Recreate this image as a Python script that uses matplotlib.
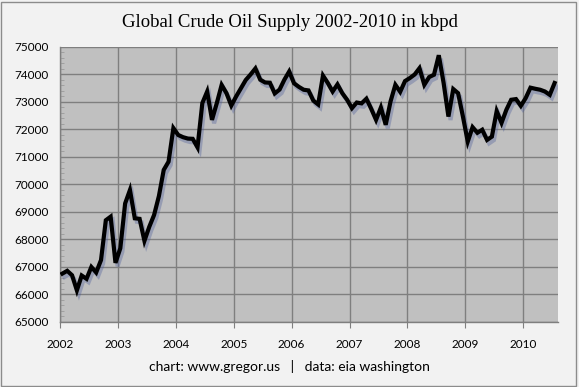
import matplotlib
matplotlib.use("Agg")
import matplotlib.pyplot as plt
import matplotlib.patheffects as pe
from matplotlib.ticker import MultipleLocator
import numpy as np

# monthly world crude supply, Jan 2002 .. Jul 2010 (kbpd)
supply_2002 = [66760, 66860, 66700, 66150, 66690, 66570, 67000, 66800, 67250, 68700, 68830, 67150]
supply_2003 = [67680, 69310, 69800, 68770, 68750, 67950, 68460, 68890, 69580, 70530, 70830, 72050]
supply_2004 = [71800, 71720, 71670, 71660, 71350, 72960, 73380, 72350, 72960, 73620, 73320, 72870]
supply_2005 = [73200, 73500, 73800, 74000, 74220, 73810, 73710, 73700, 73310, 73450, 73810, 74110]
supply_2006 = [73680, 73550, 73445, 73420, 73050, 72910, 73960, 73690, 73380, 73640, 73320, 73080]
supply_2007 = [72775, 72980, 72950, 73120, 72750, 72350, 72800, 72170, 73020, 73625, 73370, 73760]
supply_2008 = [73870, 74000, 74230, 73625, 73905, 73990, 74700, 73690, 72470, 73470, 73320, 72470]
supply_2009 = [71560, 72085, 71880, 71990, 71620, 71740, 72670, 72240, 72715, 73080, 73105, 72860]
supply_2010 = [73140, 73520, 73480, 73445, 73380, 73260, 73690]

years = list(range(2002, 2011))
supply = supply_2002 + supply_2003 + supply_2004 + supply_2005 + supply_2006 + \
    supply_2007 + supply_2008 + supply_2009 + supply_2010
months = np.arange(len(supply))
dates = 2002 + (months + 0.5) / 12

fig = plt.figure(figsize=(5.79, 3.87), dpi=100, facecolor="#f2f2f2")
ax = fig.add_axes([0.1036, 0.168, 0.8601, 0.7106])
ax.set_facecolor("#c0c0c0")

ax.plot(dates, supply, color="black", lw=3.0, solid_joinstyle="miter",
        path_effects=[pe.SimpleLineShadow(offset=(1.5, -2.5), shadow_color="#4a5a9a", alpha=0.35),
                      pe.Normal()], zorder=3)

ax.set_xlim(2002, 2010.6)
ax.set_ylim(65000, 75000)
ax.set_xticks(years)
ax.set_yticks(range(65000, 75001, 1000))
ax.yaxis.set_minor_locator(MultipleLocator(200))
ax.grid(True, which="major", color="#7f7f7f", lw=1.0)
ax.set_axisbelow(True)

lab = dict(family="Lato", size=8.5, color="black")
ax.set_xticklabels([str(y) for y in years], **lab)
ax.set_yticklabels([str(v) for v in range(65000, 75001, 1000)], **lab)
ax.tick_params(axis="x", which="major", length=4, color="#7f7f7f", pad=8, direction="out")
ax.tick_params(axis="y", which="major", length=0, pad=8)
ax.tick_params(axis="y", which="minor", length=3, color="#9a9a9a", direction="in")

for s in ["top", "right"]:
    ax.spines[s].set_visible(False)
for s in ["left", "bottom"]:
    ax.spines[s].set_color("#7f7f7f")
    ax.spines[s].set_linewidth(1.0)

fig.text(0.5, 0.943, "Global Crude Oil Supply 2002-2010 in kbpd",
         ha="center", va="center", family="Liberation Serif", size=13.5)
fig.text(0.5, 0.054, "chart: www.gregor.us   |   data: eia washington",
         ha="center", va="center", family="Lato", size=10)

fig.patches.append(plt.Rectangle((0.002, 0.003), 0.993, 0.993, transform=fig.transFigure,
                                 fill=False, edgecolor="#8c8c8c", lw=1.0))

fig.savefig("out.png", dpi=100, facecolor=fig.get_facecolor())
